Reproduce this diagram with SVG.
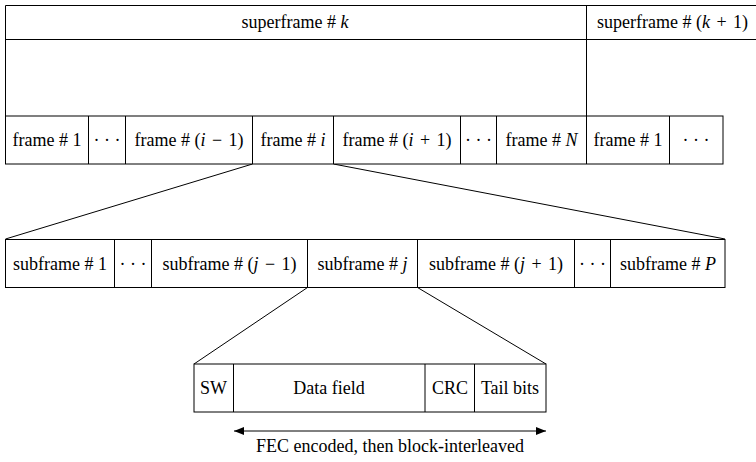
<svg xmlns="http://www.w3.org/2000/svg" width="756" height="462" viewBox="0 0 756 462">
<style>
.ln{stroke:#000;stroke-width:1;fill:none}
.bx{stroke:#000;stroke-width:1;fill:#fff}
text{font-family:"Liberation Serif","Times New Roman",serif;font-size:18px;fill:#000;text-anchor:middle}
.it{font-style:italic}
</style>
<defs>
<marker id="ah" viewBox="0 0 10 8" refX="10" refY="4" markerWidth="10" markerHeight="8" markerUnits="userSpaceOnUse" orient="auto-start-reverse">
<path d="M0,0 L10,4 L0,8 Z" fill="#000"/>
</marker>
</defs>
<g id="connectors">
<line class="ln" x1="252.5" y1="164" x2="5.5" y2="239"/>
<line class="ln" x1="333.5" y1="164" x2="725" y2="239"/>
<line class="ln" x1="307.5" y1="287.5" x2="194" y2="364"/>
<line class="ln" x1="417.5" y1="287.5" x2="546" y2="364"/>
<line class="ln" x1="234" y1="431" x2="546" y2="431" marker-start="url(#ah)" marker-end="url(#ah)"/>
</g>
<g id="superframe-k">
<path class="ln" d="M5.5,5.5 H756 M5.5,39.5 H756 M5.5,5.5 V116"/>
<text x="295" y="27.5">superframe # <tspan class="it">k</tspan></text>
</g>
<g id="superframe-k1">
<path class="ln" d="M586.5,5.5 V116"/>
<text x="597" y="27.5" style="text-anchor:start">superframe # (<tspan class="it">k</tspan> <tspan dx="2">+</tspan> <tspan dx="2">1)</tspan></text>
</g>
<g id="frame-row">
<rect class="bx" x="5.5" y="116" width="717.5" height="48"/>
<path class="ln" d="M88.5,116 V164 M125.5,116 V164 M252.5,116 V164 M333.5,116 V164 M460.5,116 V164 M496.5,116 V164 M586.5,116 V164 M669.5,116 V164"/>
</g>
<g id="frame-1"><text x="47" y="146">frame # 1</text></g>
<g id="frame-dots-1"><text x="107" y="146">· · ·</text></g>
<g id="frame-i-minus-1"><text x="189" y="146">frame # (<tspan class="it">i</tspan> <tspan dx="2">−</tspan> <tspan dx="2">1)</tspan></text></g>
<g id="frame-i"><text x="293" y="146">frame # <tspan class="it">i</tspan></text></g>
<g id="frame-i-plus-1"><text x="397" y="146">frame # (<tspan class="it">i</tspan> <tspan dx="2">+</tspan> <tspan dx="2">1)</tspan></text></g>
<g id="frame-dots-2"><text x="478.5" y="146">· · ·</text></g>
<g id="frame-N"><text x="541.5" y="146">frame # <tspan class="it">N</tspan></text></g>
<g id="frame-1-next"><text x="628" y="146">frame # 1</text></g>
<g id="frame-dots-3"><text x="696" y="146">· · ·</text></g>
<g id="subframe-row">
<rect class="bx" x="5.5" y="239.5" width="719.5" height="48"/>
<path class="ln" d="M114.5,239.5 V287.5 M151.5,239.5 V287.5 M307.5,239.5 V287.5 M417.5,239.5 V287.5 M574.5,239.5 V287.5 M610.5,239.5 V287.5"/>
</g>
<g id="subframe-1"><text x="60" y="270">subframe # 1</text></g>
<g id="subframe-dots-1"><text x="133" y="270">· · ·</text></g>
<g id="subframe-j-minus-1"><text x="229.5" y="270">subframe # (<tspan class="it">j</tspan> <tspan dx="2">−</tspan> <tspan dx="2">1)</tspan></text></g>
<g id="subframe-j"><text x="362.5" y="270">subframe # <tspan class="it">j</tspan></text></g>
<g id="subframe-j-plus-1"><text x="496" y="270">subframe # (<tspan class="it">j</tspan> <tspan dx="2">+</tspan> <tspan dx="2">1)</tspan></text></g>
<g id="subframe-dots-2"><text x="592.5" y="270">· · ·</text></g>
<g id="subframe-P"><text x="668" y="270">subframe # <tspan class="it">P</tspan></text></g>
<g id="subframe-fields">
<rect class="bx" x="194" y="364" width="352" height="48"/>
<path class="ln" d="M233.5,364 V412 M425,364 V412 M474.5,364 V412"/>
</g>
<g id="field-SW"><text x="213.5" y="394">SW</text></g>
<g id="field-data"><text x="329" y="394">Data field</text></g>
<g id="field-CRC"><text x="450" y="394">CRC</text></g>
<g id="field-tail"><text x="510" y="394">Tail bits</text></g>
<g id="fec-label"><text x="390" y="452">FEC encoded, then block-interleaved</text></g>
</svg>
